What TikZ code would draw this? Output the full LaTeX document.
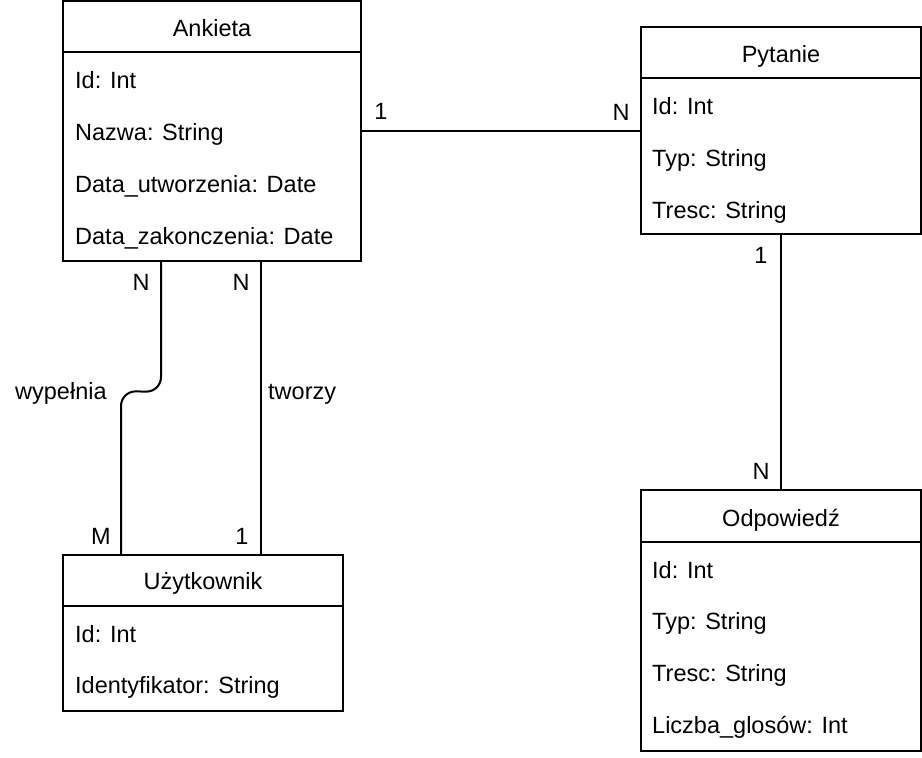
\documentclass[tikz,border=0pt]{standalone}
\usepackage{fontspec}
\setmainfont{Liberation Sans}
\begin{document}
\begin{tikzpicture}[x=1pt,y=-1pt,
  every node/.style={font=\fontsize{23.5}{28}\selectfont, text=black},
  entity/.style={draw=black, line width=2pt, rectangle, inner sep=0pt},
  attr/.style={anchor=base west, inner sep=0pt},
  ttl/.style={anchor=base, inner sep=0pt},
  card/.style={anchor=base, inner sep=0pt},
  conn/.style={draw=black, line width=2pt}
]
\useasboundingbox (0,0) rectangle (922,758);

% Ankieta
\node[entity, minimum width=298pt, minimum height=260pt] (ank) at (212,131) {};
\draw[conn] ([yshift=-52pt]ank.north west) -- ([yshift=-52pt]ank.north east);
\node[ttl] (ankT) at (212,36) {Ankieta};
\node[attr] (ank1) at (75,88) {Id: Int};
\node[attr] (ank2) at (75,140) {Nazwa: String};
\node[attr] (ank3) at (75,192) {Data\_utworzenia: Date};
\node[attr] (ank4) at (75,244) {Data\_zakonczenia: Date};

% Pytanie
\node[entity, minimum width=280pt, minimum height=207pt] (pyt) at (781,130.5) {};
\draw[conn] ([yshift=-52pt]pyt.north west) -- ([yshift=-52pt]pyt.north east);
\node[ttl] (pytT) at (781,62) {Pytanie};
\node[attr] (pyt1) at (652,114) {Id: Int};
\node[attr] (pyt2) at (652,166) {Typ: String};
\node[attr] (pyt3) at (652,218) {Tresc: String};

% Odpowiedz
\node[entity, minimum width=280pt, minimum height=261pt] (odp) at (781,620.5) {};
\draw[conn] ([yshift=-53pt]odp.north west) -- ([yshift=-53pt]odp.north east);
\node[ttl] (odpT) at (781,526) {Odpowiedź};
\node[attr] (odp1) at (652,578) {Id: Int};
\node[attr] (odp2) at (652,629) {Typ: String};
\node[attr] (odp3) at (652,681) {Tresc: String};
\node[attr] (odp4) at (652,733) {Liczba\_glosów: Int};

% Uzytkownik
\node[entity, minimum width=280pt, minimum height=156pt] (uzy) at (203,633) {};
\draw[conn] ([yshift=-52pt]uzy.north west) -- ([yshift=-52pt]uzy.north east);
\node[ttl] (uzyT) at (203,589) {Użytkownik};
\node[attr] (uzy1) at (75,642) {Id: Int};
\node[attr] (uzy2) at (75,693) {Identyfikator: String};

% connectors
\draw[conn] (ank.east) -- (ank.east -| pyt.west);
\node[card] (c1) at (381,119) {1};
\node[card] (c2) at (621,120) {N};

\draw[conn] (pyt.south) -- (odp.north);
\node[card] (c3) at (761,263) {1};
\node[card] (c4) at (761,479) {N};

\draw[conn, rounded corners=15pt] ([xshift=-51pt]ank.south) -- ++(0,130) -- ([xshift=-82pt]uzy.north |- 0,391) -- ([xshift=-82pt]uzy.north);
\node[card] (c5) at (141,290) {N};
\node[card] (c6) at (101,544) {M};
\node[attr] (lw) at (15,399) {wypełnia};

\draw[conn] ([xshift=49pt]ank.south) -- ([xshift=58pt]uzy.north);
\node[card] (c7) at (241,290) {N};
\node[card] (c8) at (242,544) {1};
\node[attr] (lt) at (268,399) {tworzy};
\end{tikzpicture}
\end{document}
